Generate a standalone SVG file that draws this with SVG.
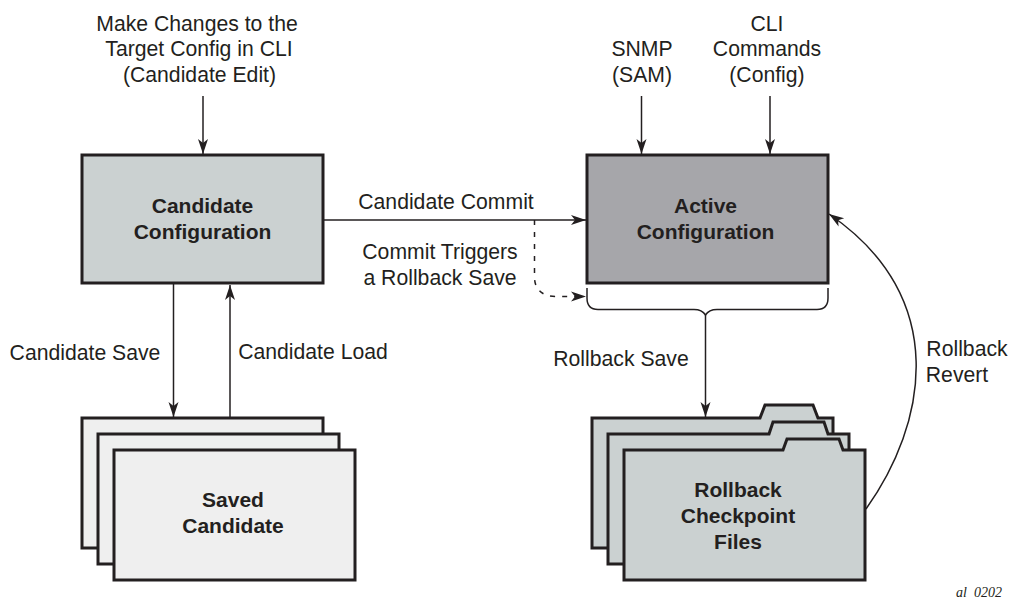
<svg xmlns="http://www.w3.org/2000/svg" width="1009" height="598" viewBox="0 0 1009 598">
<defs>
<marker id="arr" markerUnits="userSpaceOnUse" markerWidth="16" markerHeight="12" refX="15" refY="6" orient="auto"><path d="M0,1 L15,6 L0,11 L4,6 Z" fill="#231f20"/></marker>
</defs>
<style>
text{font-family:"Liberation Sans",Arial,sans-serif;font-size:21.200px;fill:#231f20;text-anchor:middle}
.b{font-weight:bold;font-size:21px}
.box{stroke:#231f20;stroke-width:3;stroke-linejoin:miter}
.c{fill:none;stroke:#231f20;stroke-width:1.5}
.lg{fill:#cbd1d1}.dk{fill:#a6a6aa}.pl{fill:#efefef}
</style>
<rect width="1009" height="598" fill="#fff"/>
<g id="connectors">
<path class="c" marker-end="url(#arr)" d="M203,96V154"/>
<path class="c" marker-end="url(#arr)" d="M641.500,96V154"/>
<path class="c" marker-end="url(#arr)" d="M770,96V154"/>
<path class="c" marker-end="url(#arr)" d="M323,220H586"/>
<path class="c" stroke-dasharray="5 7" marker-end="url(#arr)" d="M534.500,220V277C534.500,290 543,296.500 556,296.500H586"/>
<path class="c" d="M587,288V298C587,306 591,309.500 598,309.500H694C700,309.500 703,311 705.500,315C708,311 711,309.500 717,309.500H817C824,309.500 828,306 828,298V288"/>
<path class="c" marker-end="url(#arr)" d="M705.500,315V417"/>
<path class="c" marker-end="url(#arr)" d="M173.500,283V417"/>
<path class="c" marker-end="url(#arr)" d="M230,418V285"/>
<path class="c" marker-end="url(#arr)" d="M866,509C926,425 952,298 829,214"/>
</g>
<g id="candidate-configuration">
<rect class="box lg" x="82" y="155" width="241" height="128"/>
<text class="b" x="202.500" y="213">Candidate</text><text class="b" x="202.500" y="239">Configuration</text>
</g>
<g id="active-configuration">
<rect class="box dk" x="587" y="155" width="241" height="128"/>
<text class="b" x="705.500" y="213">Active</text><text class="b" x="705.500" y="239">Configuration</text>
</g>
<g id="saved-candidate">
<rect class="box pl" x="82" y="418" width="241" height="130"/>
<rect class="box pl" x="98" y="434" width="241" height="130"/>
<rect class="box pl" x="114" y="450" width="241" height="130"/>
<text class="b" x="233" y="507">Saved</text><text class="b" x="233" y="533">Candidate</text>
</g>
<g id="rollback-checkpoint-files">
<path class="box lg" d="M592,548V418H760L765,405H813L818,418H833V548Z"/>
<path class="box lg" d="M608,564V434H769L773,422H824L828,434H849V564Z"/>
<path class="box lg" d="M624,580V450H783L787,439H839L843,450H865V580Z"/>
<text class="b" x="738" y="497">Rollback</text><text class="b" x="738" y="523">Checkpoint</text><text class="b" x="738" y="549">Files</text>
</g>
<g id="labels">
<text x="197" y="30.500">Make Changes to the</text><text x="199" y="56">Target Config in CLI</text><text x="199.500" y="82">(Candidate Edit)</text>
<text x="642" y="56">SNMP</text><text x="642" y="82">(SAM)</text>
<text x="767" y="30.500">CLI</text><text x="767" y="56">Commands</text><text x="767" y="82">(Config)</text>
<text x="446" y="209">Candidate Commit</text>
<text x="440" y="259">Commit Triggers</text><text x="440" y="285">a Rollback Save</text>
<text x="85" y="360">Candidate Save</text>
<text x="313" y="359">Candidate Load</text>
<text x="621" y="366">Rollback Save</text>
<text x="967" y="356">Rollback</text><text x="957" y="382">Revert</text>
<text x="979" y="597" style="font-family:'Liberation Serif',serif;font-style:italic;font-size:14px">al_0202</text>
</g>
</svg>
